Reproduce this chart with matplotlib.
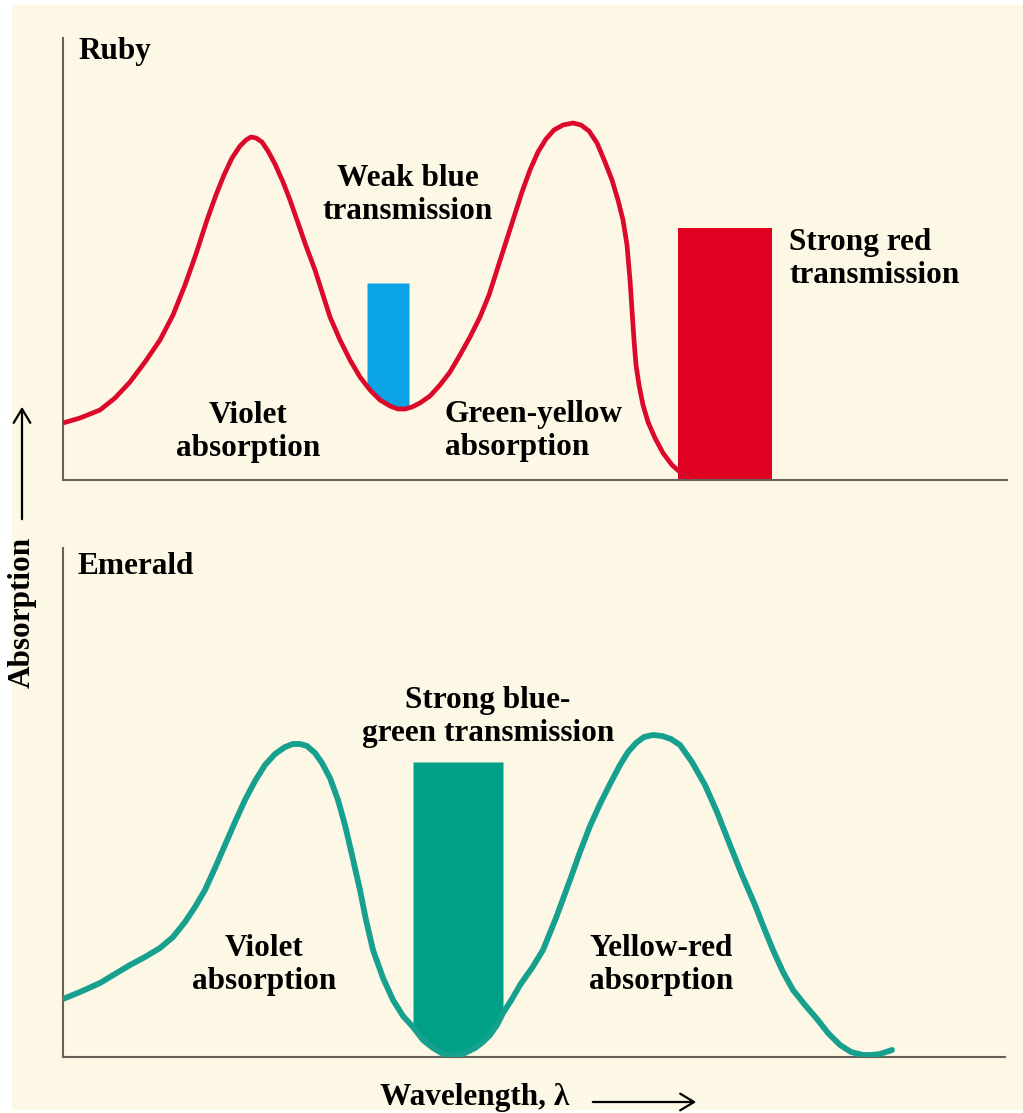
import numpy as np
import matplotlib
matplotlib.use("Agg")
import matplotlib.pyplot as plt
from matplotlib.patches import Rectangle, FancyArrowPatch

# Ruby absorption curve (arbitrary units)
ruby_wl = [0, 17, 37, 52, 67, 82, 97, 110, 122, 133, 144, 153, 161, 169, 177, 183, 188, 193, 199, 205,
           212, 220, 227, 234, 243, 252, 260, 267, 277, 287, 297, 307, 317, 327, 335, 342, 349, 357, 367, 377,
           387, 397, 407, 417, 426, 434, 442, 450, 459, 467, 475, 483, 491, 500, 510, 518, 526, 534, 542, 549,
           555, 560, 564, 567, 569, 571, 573, 576, 580, 585, 592, 600, 609, 618, 627]
ruby_abs = [57, 62, 70, 82, 98, 118, 140, 165, 195, 226, 260, 285, 305, 322, 334, 340, 343, 342, 338, 329,
            316, 298, 280, 260, 234, 210, 185, 163, 140, 120, 103, 90, 80, 74, 71, 71, 73, 77, 84, 95,
            108, 125, 143, 163, 185, 210, 235, 260, 288, 310, 328, 341, 350, 355, 357, 355, 349, 337, 318, 300,
            280, 260, 235, 200, 170, 140, 115, 95, 75, 58, 42, 27, 15, 7, 2]

# Emerald absorption curve
emerald_wl = [0, 17, 37, 52, 67, 82, 97, 110, 122, 132, 142, 152, 162, 172, 182, 192, 202, 212, 222, 230,
              237, 244, 252, 259, 267, 275, 282, 289, 297, 303, 310, 320, 330, 340, 350, 360, 370, 380, 390, 400,
              412, 420, 427, 434, 440, 449, 457, 469, 480, 493, 507, 517, 527, 537, 547, 557, 565, 573, 581, 590,
              599, 608, 617, 629, 642, 654, 667, 679, 692, 701, 710, 720, 730, 742, 754, 765, 777, 788, 800, 809,
              817, 823, 829]
emerald_abs = [58, 65, 74, 83, 92, 100, 109, 120, 135, 150, 167, 189, 212, 235, 257, 276, 292, 303, 310, 313,
               313, 311, 304, 294, 279, 257, 232, 202, 167, 137, 107, 79, 57, 41, 30, 17, 9, 3, 1, 3,
               9, 15, 22, 32, 44, 58, 72, 89, 107, 139, 177, 205, 231, 253, 273, 292, 305, 314, 320, 322,
               321, 318, 312, 295, 272, 245, 212, 182, 152, 129, 107, 85, 67, 52, 38, 24, 12, 5, 2, 2,
               3, 5, 7]

# transmission bands: (start, end, top)
blue_band = (304, 346, 197)
red_band = (615, 709, 252)
green_band = (350, 440, 295)

BG = "#fdf7e6"
RED = "#dc0a2a"
RED_BAR = "#e00022"
BLUE = "#0aa3e6"
TEAL = "#17a08e"
TEAL_BAR = "#00a088"
AXIS = "#67625a"

plt.rcParams["font.family"] = ["Liberation Serif", "DejaVu Serif"]
plt.rcParams["font.weight"] = "bold"
FS = 22.5
LS = 1.2

fig = plt.figure(figsize=(10.23, 11.13), dpi=100, facecolor="white")
W, H = 1023, 1113
# cream backdrop, leaves thin white margin at left/top/bottom
fig.patches.append(Rectangle((12 / W, 3 / H), 1 - 12 / W, (1108 - 3) / H, transform=fig.transFigure,
                             facecolor=BG, edgecolor="none", zorder=-10))

ax1 = fig.add_axes([63 / W, (H - 480) / H, 944 / W, 442 / H])
ax2 = fig.add_axes([63 / W, (H - 1057) / H, 942 / W, 509 / H])

for ax, ymax, xmax in [(ax1, 442, 944), (ax2, 509, 942)]:
    ax.set_facecolor("none")
    ax.set_xlim(0, xmax)
    ax.set_ylim(0, ymax)
    ax.set_xticks([])
    ax.set_yticks([])
    for s in ["top", "right"]:
        ax.spines[s].set_visible(False)
    for s in ["left", "bottom"]:
        ax.spines[s].set_color(AXIS)
        ax.spines[s].set_linewidth(1.5)


def band_fill(ax, wl, ab, band, color, from_curve=True):
    x0, x1, top = band
    xs = np.linspace(x0, x1, 60)
    bottom = np.interp(xs, wl, ab) if from_curve else np.zeros_like(xs)
    ax.fill_between(xs, bottom, top, color=color, lw=0, zorder=1)


# Ruby
band_fill(ax1, ruby_wl, ruby_abs, blue_band, BLUE)
band_fill(ax1, ruby_wl, ruby_abs, red_band, RED_BAR, from_curve=False)
ax1.plot(ruby_wl, ruby_abs, color=RED, lw=3.4, solid_capstyle="butt", solid_joinstyle="round", zorder=3)

ax1.text(15, 421, "Ruby", fontsize=FS, ha="left", va="baseline")
ax1.text(345, 285, "Weak blue\ntransmission", fontsize=FS, ha="center", va="center", linespacing=LS)
ax1.text(185, 48, "Violet\nabsorption", fontsize=FS, ha="center", va="center", linespacing=LS)
ax1.text(382, 49, "Green-yellow\nabsorption", fontsize=FS, ha="left", va="center", linespacing=LS)
ax1.text(726, 221, "Strong red\ntransmission", fontsize=FS, ha="left", va="center", linespacing=LS)

# Emerald
band_fill(ax2, emerald_wl, emerald_abs, green_band, TEAL_BAR)
ax2.plot(emerald_wl, emerald_abs, color=TEAL, lw=4.2, solid_capstyle="round", solid_joinstyle="round", zorder=3)

ax2.text(15, 483, "Emerald", fontsize=FS, ha="left", va="baseline")
ax2.text(425, 340, "Strong blue-\ngreen transmission", fontsize=FS, ha="center", va="center", linespacing=LS)
ax2.text(201, 92, "Violet\nabsorption", fontsize=FS, ha="center", va="center", linespacing=LS)
ax2.text(598, 92, "Yellow-red\nabsorption", fontsize=FS, ha="center", va="center", linespacing=LS)

# axis titles with arrows
fig.text(22 / W, (H - 612) / H, "Absorption", fontsize=FS, rotation=90, ha="center", va="center")
arrow_kw = dict(arrowstyle="->,head_length=10,head_width=6", lw=1.6, color="black",
                transform=fig.transFigure, mutation_scale=1)
fig.patches.append(FancyArrowPatch((22 / W, (H - 522) / H), (22 / W, (H - 404) / H), **arrow_kw))
fig.text(380 / W, (H - 1105) / H, "Wavelength, λ", fontsize=FS, ha="left", va="baseline")
fig.patches.append(FancyArrowPatch((590 / W, (H - 1102) / H), (699 / W, (H - 1102) / H), **arrow_kw))

fig.savefig("out.png", dpi=100, facecolor="white")
